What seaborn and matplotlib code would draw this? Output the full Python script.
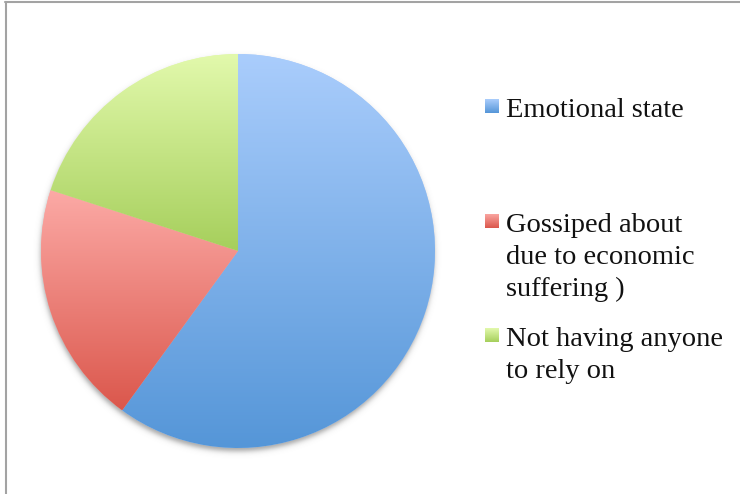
import numpy as np
import matplotlib
matplotlib.use("Agg")
import matplotlib.pyplot as plt
import seaborn as sns
from matplotlib.colors import LinearSegmentedColormap
from matplotlib.lines import Line2D

# Chart data
categories = [
    "Emotional state",
    "Gossiped about\ndue to economic\nsuffering )",
    "Not having anyone\nto rely on",
]
shares = [60, 20, 20]

# Slice fills: light (top) to dark (bottom) gradient per slice
light = ["#aacdfc", "#fcaaa6", "#e2f9ac"]
dark = ["#5596d8", "#db574c", "#a6cf5c"]

sns.set_theme(style="white")
plt.rcParams["font.family"] = ["Liberation Serif", "DejaVu Serif"]

W, H = 740, 494
fig = plt.figure(figsize=(W / 100, H / 100), dpi=100)
fig.patch.set_facecolor("white")

# Pie axes, placed in pixel terms
cx, cy, R = 238, H - 251, 197
half = 215
ax = fig.add_axes([(cx - half) / W, (cy - half) / H, 2 * half / W, 2 * half / H])

wedges, _ = ax.pie(
    shares,
    startangle=90,
    counterclock=False,
    radius=1,
    colors=light,
    wedgeprops=dict(linewidth=0),
)

lim = half / R
ax.set_xlim(-lim, lim)
ax.set_ylim(-lim, lim)
ax.set_aspect("equal")
ax.axis("off")

# Soft drop shadow under the pie
n = 600
gx, gy = np.meshgrid(np.linspace(-lim, lim, n), np.linspace(-lim, lim, n))
off = 3.5 / R
d = np.sqrt((gx + 0.6 / R) ** 2 + (gy + off) ** 2)
k = 1.6 / R
alpha = 0.55 / (1 + np.exp((d - 1.0) / k))
shadow = np.zeros((n, n, 4))
shadow[..., :3] = 0.35
shadow[..., 3] = alpha
ax.imshow(shadow, extent=[-lim, lim, -lim, lim], origin="lower", zorder=0.5,
          interpolation="bilinear")

# Gradient fill clipped to each wedge
for w, lo, hi in zip(wedges, light, dark):
    w.set_zorder(1)
    angs = np.radians(np.linspace(w.theta1, w.theta2, 400))
    ys = np.concatenate([np.sin(angs), [0.0]])
    y0, y1 = ys.min(), ys.max()
    cmap = LinearSegmentedColormap.from_list("g", [lo, hi])
    grad = np.linspace(1, 0, 256).reshape(-1, 1)
    im = ax.imshow(grad, cmap=cmap, vmin=0, vmax=1, aspect="auto",
                   extent=[-1, 1, y0, y1], origin="lower", zorder=2,
                   interpolation="bilinear")
    im.set_clip_path(w)

ax.set_xlim(-lim, lim)
ax.set_ylim(-lim, lim)

# Legend: gradient swatches and wrapped labels
first_baselines = [117, 232, 346]
line_step = 32
text_x = 506
sw_x, sw_size = 485, 14
for label, base, lo, hi in zip(categories, first_baselines, light, dark):
    sw = fig.add_axes([sw_x / W, (H - (base - 4)) / H, sw_size / W, sw_size / H])
    cmap = LinearSegmentedColormap.from_list("g", [lo, hi])
    sw.imshow(np.linspace(0, 1, 64).reshape(-1, 1), cmap=cmap, aspect="auto",
              interpolation="bilinear")
    sw.axis("off")
    for i, line in enumerate(label.split("\n")):
        fig.text(text_x / W, 1 - (base + i * line_step) / H, line,
                 fontsize=20.5, va="baseline", ha="left", color="#111111")

# Chart frame (left and top edges)
fig.add_artist(Line2D([5.5 / W, 5.5 / W], [0, 1 - 2 / H], transform=fig.transFigure,
                      color="#a3a3a3", lw=1.5))
fig.add_artist(Line2D([5 / W, 1], [1 - 2.5 / H, 1 - 2.5 / H], transform=fig.transFigure,
                      color="#a3a3a3", lw=1.5))

fig.savefig("out.png", dpi=100, facecolor="white")
